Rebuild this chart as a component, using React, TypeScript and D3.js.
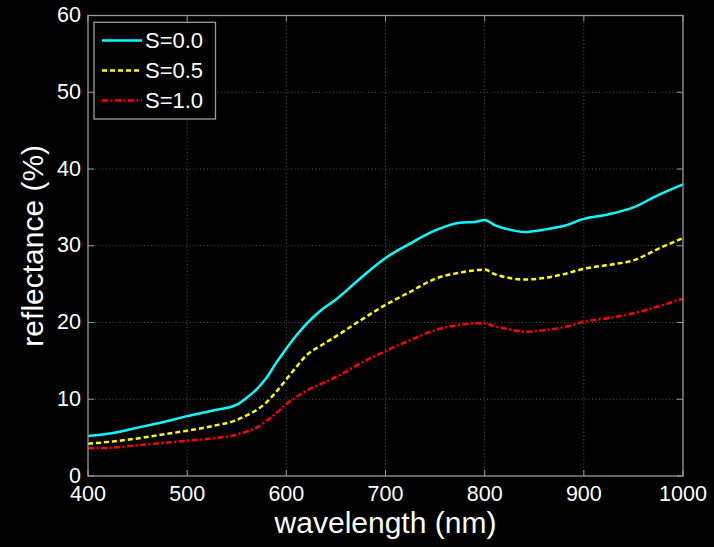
import React from "react";
import * as d3 from "d3";

const wavelengths = [400, 425, 450, 475, 500, 525, 550, 560, 570, 580, 590, 600, 610, 620, 635, 650, 675, 700, 725, 750, 775, 790, 800, 810, 825, 840, 860, 880, 900, 925, 950, 975, 1000];
const s00 = [5.2, 5.6, 6.3, 7.0, 7.8, 8.5, 9.3, 10.2, 11.3, 12.8, 14.8, 16.6, 18.3, 19.8, 21.6, 23.0, 25.8, 28.4, 30.3, 32.0, 33.0, 33.1, 33.35, 32.7, 32.1, 31.8, 32.1, 32.6, 33.5, 34.1, 35.0, 36.6, 38.0];
const s05 = [4.2, 4.5, 4.9, 5.4, 5.9, 6.5, 7.3, 7.9, 8.6, 9.6, 11.0, 12.6, 14.2, 15.7, 17.0, 18.2, 20.3, 22.3, 24.0, 25.7, 26.5, 26.8, 26.9, 26.3, 25.8, 25.6, 25.8, 26.3, 27.0, 27.5, 28.1, 29.6, 31.0];
const s10 = [3.6, 3.7, 4.0, 4.3, 4.6, 4.9, 5.4, 5.8, 6.3, 7.2, 8.2, 9.4, 10.3, 11.1, 12.0, 12.9, 14.7, 16.3, 17.7, 19.0, 19.7, 19.9, 19.9, 19.5, 19.1, 18.8, 19.0, 19.4, 20.1, 20.6, 21.2, 22.1, 23.1];
const seriesNames = ["S=0.0", "S=0.5", "S=1.0"];
const xTicks = [400, 500, 600, 700, 800, 900, 1000];
const yTicks = [0, 10, 20, 30, 40, 50, 60];

const W = 714, H = 547;
const left = 88, right = 683, top = 15.5, bottom = 476;
const font = "'Liberation Sans', Arial, Helvetica, sans-serif";

export default function App() {
  const x = d3.scaleLinear().domain([400, 1000]).range([left, right]);
  const y = d3.scaleLinear().domain([0, 60]).range([bottom, top]);
  const styles = [
    { color: "#00ffff", dash: "none" },
    { color: "#ffff00", dash: "5 3" },
    { color: "#ff0000", dash: "6 2.5 2 2.5" },
  ];
  const data = [s00, s05, s10];
  const line = (vals: number[]) =>
    d3.line<number>().x((_, i) => x(wavelengths[i])).y((v) => y(v)).curve(d3.curveMonotoneX)(vals) || "";
  const axisColor = "#9a9a9a";
  const gridColor = "#555";
  return (
    <div style={{ position: "fixed", left: 0, top: 0 }}>
      <svg width={W} height={H} style={{ display: "block", background: "#000" }}>
        <rect x={0} y={0} width={W} height={H} fill="#000" />
        {xTicks.slice(1, -1).map((t) => (
          <line key={"gx" + t} x1={x(t)} x2={x(t)} y1={top} y2={bottom} stroke={gridColor} strokeDasharray="1 2.5" />
        ))}
        {yTicks.slice(1, -1).map((t) => (
          <line key={"gy" + t} x1={left} x2={right} y1={y(t)} y2={y(t)} stroke={gridColor} strokeDasharray="1 2.5" />
        ))}
        {xTicks.map((t) => (
          <g key={"tx" + t}>
            <line x1={x(t)} x2={x(t)} y1={bottom} y2={bottom - 6} stroke={axisColor} />
            <line x1={x(t)} x2={x(t)} y1={top} y2={top + 6} stroke={axisColor} />
            <text x={x(t)} y={501} fill="#fff" fontFamily={font} fontSize={21.5} textAnchor="middle">{t}</text>
          </g>
        ))}
        {yTicks.map((t) => (
          <g key={"ty" + t}>
            <line x1={left} x2={left + 6} y1={y(t)} y2={y(t)} stroke={axisColor} />
            <line x1={right} x2={right - 6} y1={y(t)} y2={y(t)} stroke={axisColor} />
            <text x={81} y={y(t) - 1} dy="0.36em" fill="#fff" fontFamily={font} fontSize={21.5} textAnchor="end">{t}</text>
          </g>
        ))}
        {data.map((vals, i) => (
          <path key={"s" + i} d={line(vals)} fill="none" stroke={styles[i].color} strokeWidth={2.5}
            strokeDasharray={styles[i].dash} strokeLinejoin="round" />
        ))}
        <rect x={left} y={top} width={right - left} height={bottom - top} fill="none" stroke={axisColor} strokeWidth={1.3} />
        <text x={(left + right) / 2} y={533} fill="#fff" fontFamily={font} fontSize={30} textAnchor="middle">wavelength (nm)</text>
        <text transform={`translate(43,${(top + bottom) / 2}) rotate(-90)`} fill="#fff" fontFamily={font} fontSize={30} textAnchor="middle">reflectance (%)</text>
        <g>
          <rect x={94} y={22.3} width={121.5} height={96.7} fill="#000" stroke={axisColor} strokeWidth={1.3} />
          {seriesNames.map((name, i) => {
            const ly = 40.5 + i * 30;
            return (
              <g key={"lg" + i}>
                <line x1={102} x2={142} y1={ly} y2={ly} stroke={styles[i].color} strokeWidth={2.5} strokeDasharray={styles[i].dash} />
                <text x={145} y={ly} dy="0.36em" fill="#fff" fontFamily={font} fontSize={22} >{name}</text>
              </g>
            );
          })}
        </g>
      </svg>
    </div>
  );
}
